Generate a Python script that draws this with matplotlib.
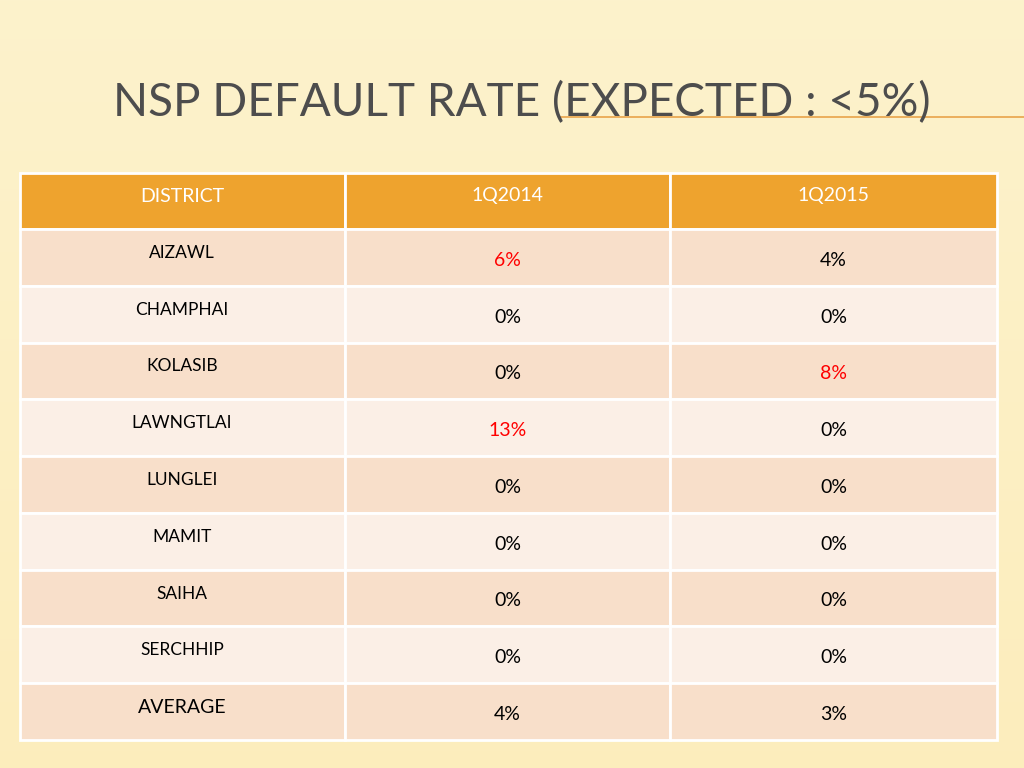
"""NSP default rate table slide."""

import matplotlib.pyplot as plt
import numpy as np
from matplotlib.patches import Rectangle

districts = ["AIZAWL", "CHAMPHAI", "KOLASIB", "LAWNGTLAI", "LUNGLEI",
             "MAMIT", "SAIHA", "SERCHHIP", "AVERAGE"]
rate_2014 = [6, 0, 0, 13, 0, 0, 0, 0, 4]
rate_2015 = [4, 0, 8, 0, 0, 0, 0, 0, 3]
headers = ["DISTRICT", "1Q2014", "1Q2015"]
threshold = 5

plt.rcParams["font.family"] = ["Liberation Sans Narrow", "Lato", "DejaVu Sans"]

fig = plt.figure(figsize=(10.24, 7.68), dpi=100)
ax = fig.add_axes([0, 0, 1, 1])
ax.set_xlim(0, 1024)
ax.set_ylim(768, 0)
ax.axis("off")

# background gradient
grad = np.linspace(0, 1, 256).reshape(-1, 1)
bg = np.ones((256, 1, 3))
top = np.array([0.99, 0.95, 0.80])
bot = np.array([0.99, 0.93, 0.74])
bg[:] = top + (bot - top) * grad[..., None]
ax.imshow(bg, extent=(0, 1024, 768, 0), aspect="auto", zorder=0)

# title
ax.text(522, 103, "NSP DEFAULT RATE (EXPECTED : <5%)", ha="center", va="center",
        fontsize=33, color="#4d4d4d", zorder=3)
ax.plot([560, 1024], [117, 117], color="#e8a44a", lw=1.2, zorder=2)

cols = [20, 345, 670, 997]
header_top, header_bot = 173, 229
row_h = (740 - header_bot) / len(districts)

for c in range(3):
    ax.add_patch(Rectangle((cols[c], header_top), cols[c + 1] - cols[c],
                           header_bot - header_top, facecolor="#eea32e",
                           edgecolor="white", lw=2, zorder=2))
    ax.text((cols[c] + cols[c + 1]) / 2, 196, headers[c], ha="center", va="center",
            fontsize=14, color="white", zorder=3)

for i, name in enumerate(districts):
    y0 = header_bot + i * row_h
    face = "#f8dfca" if i % 2 == 0 else "#fbefe6"
    for c in range(3):
        ax.add_patch(Rectangle((cols[c], y0), cols[c + 1] - cols[c], row_h,
                               facecolor=face, edgecolor="white", lw=2, zorder=2))
    ax.text(182, y0 + row_h * 0.42, name, ha="center", va="center",
            fontsize=14 if i == len(districts) - 1 else 12.5, color="black", zorder=3)
    for c, val in ((1, rate_2014[i]), (2, rate_2015[i])):
        ax.text((cols[c] + cols[c + 1]) / 2, y0 + row_h * 0.55, f"{val}%",
                ha="center", va="center", fontsize=14,
                color="#ff0000" if val > threshold else "black", zorder=3)

fig.savefig("out.png", dpi=100)
